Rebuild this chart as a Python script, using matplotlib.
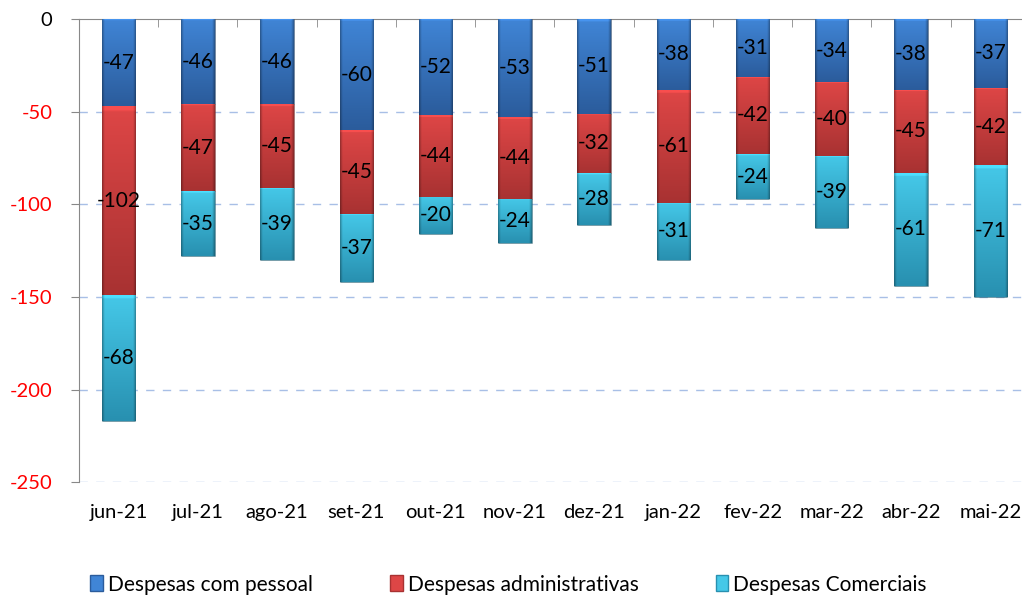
import numpy as np
import matplotlib.pyplot as plt
from matplotlib.colors import to_rgb
from matplotlib.patches import Patch

plt.rcParams['font.family'] = ['Lato', 'DejaVu Sans']

months = ["jun-21", "jul-21", "ago-21", "set-21", "out-21", "nov-21",
          "dez-21", "jan-22", "fev-22", "mar-22", "abr-22", "mai-22"]
pessoal = [-47, -46, -46, -60, -52, -53, -51, -38, -31, -34, -38, -37]
administrativas = [-102, -47, -45, -45, -44, -44, -32, -61, -42, -40, -45, -42]
comerciais = [-68, -35, -39, -37, -20, -24, -28, -31, -24, -39, -61, -71]

# (top colour, bottom colour) for each series
series = [
    ("Despesas com pessoal", pessoal, ("#4085d6", "#2b5c9c")),
    ("Despesas administrativas", administrativas, ("#de4646", "#a83232")),
    ("Despesas Comerciais", comerciais, ("#45c8e8", "#2890b0")),
]
yticks = [0, -50, -100, -150, -200, -250]


def gradient(top, bot, ny=80, nx=40):
    # vertical shading, darker side edges, bright bevel at the top
    t = np.linspace(0, 1, ny)[:, None, None]
    a, b = np.array(to_rgb(top)), np.array(to_rgb(bot))
    img = a * (1 - t) + b * t
    img = np.repeat(img, nx, axis=1)
    u = np.linspace(0, 1, nx)
    edge = np.clip(1 - np.minimum(u, 1 - u) / 0.07, 0, 1)
    img = img * (1 - 0.3 * edge[None, :, None])
    img[:2] = np.clip(img[:2] * 1.12, 0, 1)
    return img


fig = plt.figure(figsize=(10.22, 5.99), dpi=100)
ax = fig.add_axes([0.0773, 0.195, 0.9305, 0.773])

x = np.arange(len(months))
width = 0.42
bottom = np.zeros(len(months))
for name, vals, (top, bot) in series:
    vals = np.array(vals, dtype=float)
    bars = ax.bar(x, vals, width, bottom=bottom, color=bot,
                  edgecolor="#30303050", linewidth=0.6, zorder=3)
    img = gradient(top, bot)
    for b in bars:
        x0, y0 = b.get_x(), b.get_y()
        h = b.get_height()
        im = ax.imshow(img, extent=[x0, x0 + b.get_width(), y0 + h, y0],
                       aspect="auto", zorder=3.5, interpolation="bilinear")
        im.set_clip_path(b)
    for xi, bi, v in zip(x, bottom, vals):
        ax.text(xi, bi + v / 2, f"{v:.0f}", ha="center", va="center",
                fontsize=15, color="black", zorder=5)
    bottom = bottom + vals

ax.set_xlim(-0.5, len(months) - 0.5)
ax.set_ylim(-250, 0)
ax.set_yticks(yticks)
ax.set_yticklabels([str(v) for v in yticks], fontsize=14.5)
for lbl, v in zip(ax.get_yticklabels(), yticks):
    lbl.set_color("black" if v == 0 else "red")
ax.tick_params(axis="y", length=6, color="#888888", pad=13)

ax.xaxis.set_ticks_position("top")
ax.set_xticks(x)
ax.set_xticks(x[:-1] + 0.5, minor=True)
ax.set_xticklabels(months, fontsize=14.5)
ax.tick_params(axis="x", which="major", length=0, labeltop=False,
               labelbottom=True, pad=16)
ax.tick_params(axis="x", which="minor", length=6, direction="in",
               color="#888888")

for v in yticks[1:]:
    ax.axhline(v, color="#a8bfe6", linestyle=(0, (6, 6)), linewidth=1,
               zorder=1)

for s in ["right", "bottom"]:
    ax.spines[s].set_visible(False)
ax.spines["left"].set_color("#888888")
ax.spines["top"].set_color("#888888")
ax.spines["left"].set_zorder(6)

handles = [Patch(facecolor=c[0], edgecolor=c[1], label=n) for n, _, c in series]
fig.legend(handles=handles, loc="lower left", bbox_to_anchor=(0.07, -0.024),
           ncol=3, frameon=False, fontsize=15, handlelength=0.6,
           handleheight=0.8, handletextpad=0.25, columnspacing=3.7)

fig.savefig("out.png", dpi=100)
